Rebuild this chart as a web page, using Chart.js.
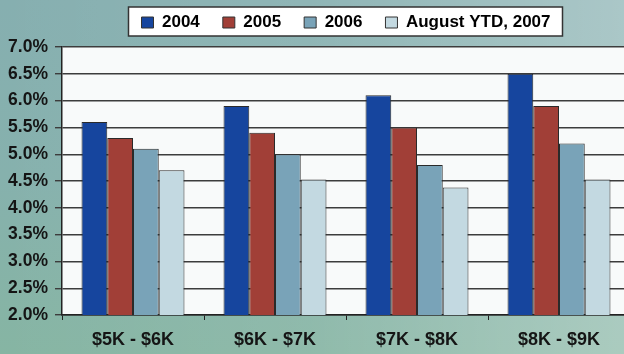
<!DOCTYPE html>
<html lang="en">
<head>
    <meta charset="UTF-8">
    <title>Rate by price band</title>
    <script src="https://cdn.jsdelivr.net/npm/chart.js"></script>
    <style>
        html, body { margin: 0; padding: 0; overflow: hidden; }
        body {
            width: 624px; height: 354px;
            background:
                linear-gradient(90deg, rgba(255,255,255,0) 0%, rgba(255,255,255,0.08) 50%, rgba(255,255,255,0.3) 100%),
                linear-gradient(180deg, #86afb0 0%, #86b1ad 50%, #86b5a3 100%);
        }
        .wrap { position: relative; width: 640px; height: 354px; }
    </style>
</head>
<body>
    <div class="wrap">
        <canvas id="chart" width="640" height="354"></canvas>
    </div>

    <script>
        const categories = ['$5K - $6K', '$6K - $7K', '$7K - $8K', '$8K - $9K'];
        const seriesNames = ['2004', '2005', '2006', 'August YTD, 2007'];
        const rate2004 = [5.6, 5.9, 6.1, 6.5];
        const rate2005 = [5.3, 5.4, 5.5, 5.9];
        const rate2006 = [5.1, 5.0, 4.8, 5.2];
        const rate2007 = [4.7, 4.53, 4.38, 4.53];
        const yTicks = [2.0, 2.5, 3.0, 3.5, 4.0, 4.5, 5.0, 5.5, 6.0, 6.5, 7.0];

        const fills = ['#16459e', '#a13f37', '#79a3b8', '#c3d9e1'];
        const font = { family: 'Liberation Sans, Arial, sans-serif', weight: 'bold' };

        // white plot area and the framed legend box
        const backdrop = {
            id: 'backdrop',
            beforeDraw(chart) {
                const { ctx, chartArea: a, legend } = chart;
                ctx.save();
                ctx.fillStyle = '#f8fafa';
                ctx.fillRect(a.left, a.top, a.right - a.left, a.bottom - a.top);
                const hb = legend.legendHitBoxes;
                if (hb && hb.length) {
                    const l = Math.min(...hb.map(h => h.left)) - 13;
                    const r = Math.max(...hb.map(h => h.left + h.width)) + 12;
                    const t = hb[0].top - 7;
                    const b = hb[0].top + hb[0].height + 5;
                    ctx.fillStyle = '#ffffff';
                    ctx.fillRect(l, t, r - l, b - t);
                    ctx.strokeStyle = '#333';
                    ctx.lineWidth = 1.5;
                    ctx.strokeRect(l, t, r - l, b - t);
                }
                ctx.restore();
            }
        };

        const values = [rate2004, rate2005, rate2006, rate2007];

        new Chart(document.getElementById('chart'), {
            type: 'bar',
            data: {
                labels: categories,
                datasets: seriesNames.map((name, i) => ({
                    label: name,
                    data: values[i],
                    backgroundColor: fills[i],
                    borderColor: '#2a2a2a',
                    borderWidth: 1,
                    barPercentage: 1,
                    categoryPercentage: 0.725
                }))
            },
            options: {
                responsive: false,
                animation: false,
                layout: { padding: { top: -9, right: 10, left: 0, bottom: 0 } },
                plugins: {
                    tooltip: { enabled: false },
                    legend: {
                        position: 'top',
                        fullSize: false,
                        labels: {
                            color: '#111',
                            font: { ...font, size: 17 },
                            boxWidth: 12,
                            boxHeight: 11,
                            padding: 23,
                            generateLabels(chart) {
                                return chart.data.datasets.map((d, i) => ({
                                    text: d.label,
                                    fillStyle: d.backgroundColor,
                                    strokeStyle: '#333',
                                    lineWidth: 1,
                                    datasetIndex: i
                                }));
                            }
                        }
                    }
                },
                scales: {
                    x: {
                        afterFit: s => { s.height = 39; },
                        grid: { drawOnChartArea: false, tickLength: 5, color: '#222', offset: true },
                        border: { color: '#222', width: 1.5 },
                        ticks: { color: '#151515', font: { ...font, size: 18 }, padding: 9 }
                    },
                    // empty top axis, only keeps a gap under the legend
                    gap: {
                        axis: 'x',
                        type: 'category',
                        position: 'top',
                        grid: { display: false },
                        border: { display: false },
                        ticks: { display: false },
                        afterFit: s => { s.height = 6; }
                    },
                    y: {
                        min: 2,
                        max: 7,
                        afterFit: s => { s.width = 62; },
                        afterBuildTicks: s => { s.ticks = yTicks.map(v => ({ value: v })); },
                        grid: { color: '#3c3c3c', lineWidth: 1.4, tickLength: 7 },
                        border: { color: '#222', width: 1.5 },
                        ticks: {
                            color: '#151515',
                            font: { ...font, size: 17.5 },
                            padding: 7,
                            callback: v => v.toFixed(1) + '%'
                        }
                    }
                }
            },
            plugins: [backdrop]
        });
    </script>
</body>
</html>
